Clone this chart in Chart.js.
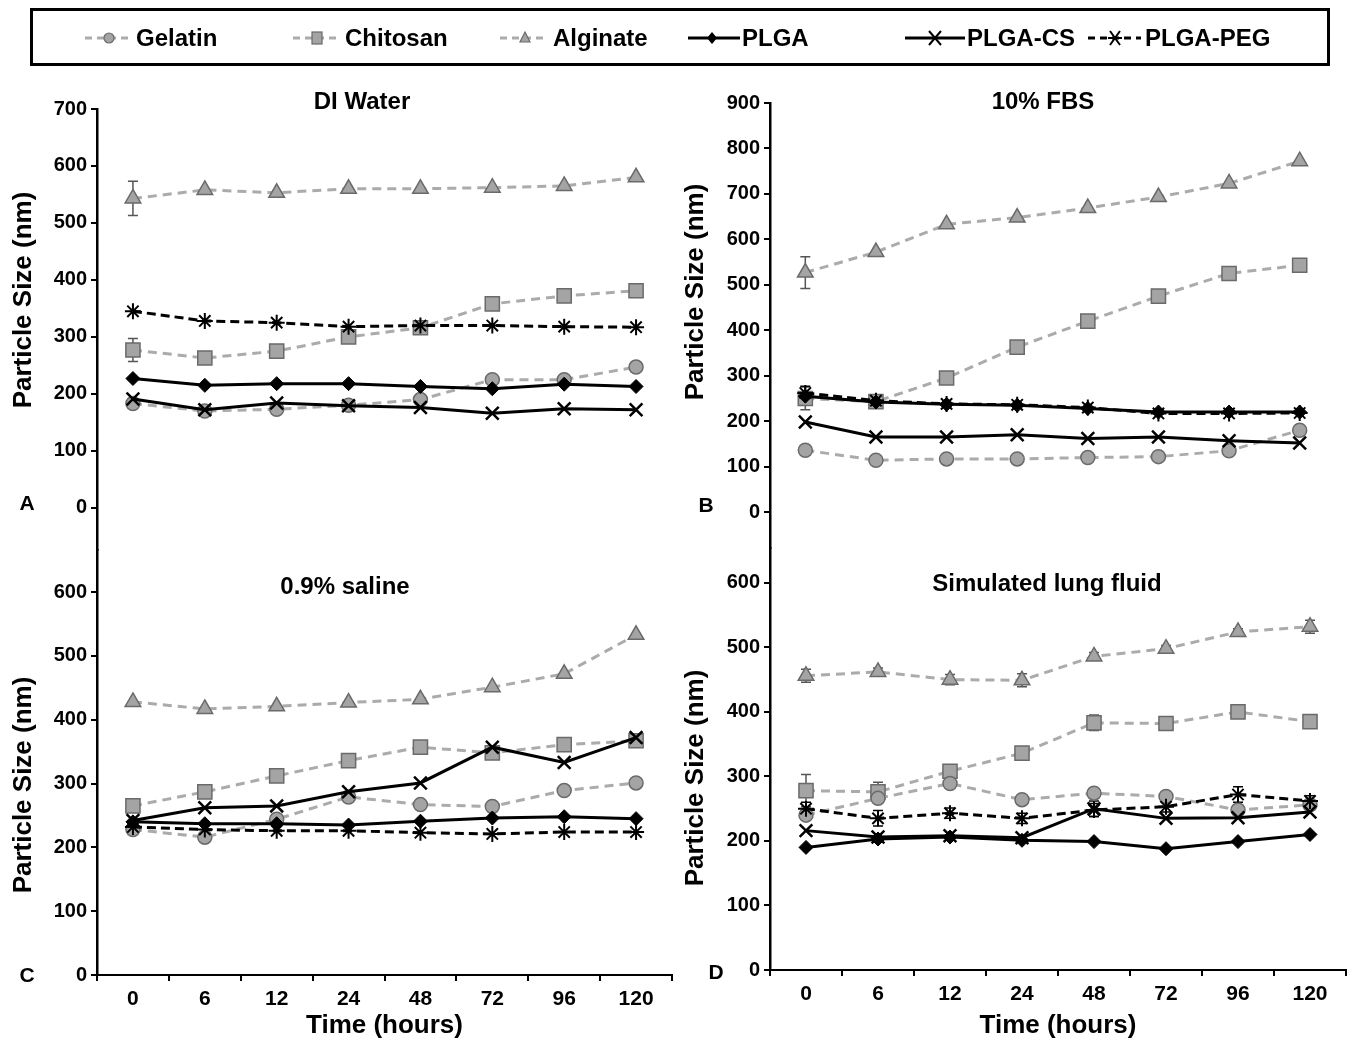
<!DOCTYPE html>
<html>
<head>
<meta charset="utf-8">
<script src="https://cdn.jsdelivr.net/npm/chart.js@4.4.1/dist/chart.umd.min.js"></script>
<style>
  html, body { margin: 0; padding: 0; background: #fff; }
  body { width: 1358px; height: 1042px; position: relative; overflow: hidden;
         font-family: "Liberation Sans", Arial, sans-serif; color: #000; }
  canvas.pc { position: absolute; }
  .abs { position: absolute; white-space: nowrap; font-weight: bold; }
  .ptitle { font-size: 24px; transform: translate(-50%, -50%); }
  .ytitle { font-size: 26px; transform: translate(-50%, -50%) rotate(-90deg); }
  .letter { font-size: 21px; font-weight: bold; transform: translate(-50%, -50%); }
  #legend { position: absolute; left: 30px; top: 8px; width: 1300px; height: 58px;
            border: 3px solid #000; box-sizing: border-box; }
  .ltext { position: absolute; font-size: 24px; font-weight: bold; top: 38px; transform: translateY(-50%); }
</style>
</head>
<body>
<div id="legend"></div>
<svg id="legendSvg" width="1358" height="70" style="position:absolute;left:0;top:0"></svg>

<canvas id="cA" class="pc"></canvas>
<canvas id="cB" class="pc"></canvas>
<canvas id="cC" class="pc"></canvas>
<canvas id="cD" class="pc"></canvas>

<div class="abs ptitle" style="left:362px;top:101px">DI Water</div>
<div class="abs ptitle" style="left:1043px;top:101px">10% FBS</div>
<div class="abs ptitle" style="left:345px;top:586px">0.9% saline</div>
<div class="abs ptitle" style="left:1047px;top:583px">Simulated lung fluid</div>

<div class="abs ytitle" style="left:22px;top:300px">Particle Size (nm)</div>
<div class="abs ytitle" style="left:694px;top:292px">Particle Size (nm)</div>
<div class="abs ytitle" style="left:22px;top:785px">Particle Size (nm)</div>
<div class="abs ytitle" style="left:694px;top:778px">Particle Size (nm)</div>

<div class="abs letter" style="left:27px;top:503px">A</div>
<div class="abs letter" style="left:706px;top:505px">B</div>
<div class="abs letter" style="left:27px;top:975px">C</div>
<div class="abs letter" style="left:716px;top:972px">D</div>

<script>
// ---------------- DATA ----------------
const timeLabels = ['0', '6', '12', '24', '48', '72', '96', '120'];
const seriesNames = ['Gelatin', 'Chitosan', 'Alginate', 'PLGA', 'PLGA-CS', 'PLGA-PEG'];

// values in order: Gelatin, Chitosan, Alginate, PLGA, PLGA-CS, PLGA-PEG
const diWaterValues = [
  [183, 170, 173, 180, 190, 225, 225, 247],
  [277, 263, 275, 300, 316, 358, 372, 381],
  [543, 558, 553, 560, 560, 562, 565, 580],
  [227, 215, 218, 218, 213, 209, 217, 213],
  [191, 172, 184, 179, 176, 166, 174, 172],
  [345, 328, 325, 318, 320, 320, 318, 317]
];
const fbsValues = [
  [136, 114, 117, 117, 120, 122, 135, 180],
  [250, 243, 295, 363, 420, 475, 525, 543],
  [527, 572, 633, 648, 669, 693, 723, 772],
  [255, 242, 237, 235, 228, 220, 220, 220],
  [198, 165, 165, 170, 162, 165, 157, 152],
  [262, 245, 238, 236, 230, 217, 217, 218]
];
const salineValues = [
  [228, 216, 244, 279, 267, 264, 289, 301],
  [265, 287, 312, 336, 357, 348, 361, 367],
  [428, 417, 421, 427, 432, 451, 472, 533],
  [240, 237, 237, 235, 241, 246, 248, 245],
  [242, 262, 265, 287, 301, 357, 333, 372],
  [232, 228, 226, 226, 223, 221, 224, 224]
];
const lungValues = [
  [240, 266, 289, 264, 274, 269, 248, 256],
  [278, 276, 308, 336, 383, 382, 400, 385],
  [456, 462, 450, 449, 486, 498, 524, 532],
  [190, 203, 206, 201, 199, 188, 199, 210],
  [216, 206, 208, 205, 250, 235, 236, 245],
  [250, 235, 243, 235, 248, 253, 272, 262]
];

// error bars (same series order)
const diWaterErrors = [
  [0, 0, 0, 0, 0, 0, 0, 0],
  [20, 0, 0, 0, 0, 0, 0, 0],
  [30, 0, 0, 0, 0, 0, 0, 0],
  [0, 0, 0, 0, 0, 0, 0, 0],
  [0, 0, 0, 0, 0, 0, 0, 0],
  [0, 0, 0, 0, 0, 0, 0, 0]
];
const fbsErrors = [
  [0, 0, 0, 0, 0, 0, 0, 0],
  [25, 0, 0, 0, 0, 0, 0, 0],
  [35, 0, 0, 0, 0, 0, 0, 0],
  [0, 0, 0, 0, 0, 0, 0, 0],
  [0, 0, 0, 0, 0, 0, 0, 0],
  [15, 0, 0, 0, 0, 0, 0, 0]
];
const salineErrors = [
  [0, 0, 0, 0, 0, 0, 0, 0],
  [0, 0, 0, 0, 0, 0, 0, 0],
  [0, 0, 0, 0, 0, 0, 0, 0],
  [0, 0, 0, 0, 0, 0, 0, 0],
  [0, 0, 0, 0, 0, 0, 0, 0],
  [0, 0, 0, 0, 0, 0, 0, 0]
];
const lungErrors = [
  [0, 0, 0, 0, 0, 0, 0, 0],
  [25, 15, 10, 10, 12, 6, 6, 10],
  [10, 6, 8, 10, 6, 5, 5, 10],
  [0, 0, 0, 0, 0, 0, 0, 0],
  [0, 0, 0, 0, 12, 0, 0, 0],
  [10, 12, 8, 8, 10, 8, 12, 8]
];

const yTicksA = [0, 100, 200, 300, 400, 500, 600, 700];
const yTicksB = [0, 100, 200, 300, 400, 500, 600, 700, 800, 900];
const yTicksC = [0, 100, 200, 300, 400, 500, 600];
const yTicksD = [0, 100, 200, 300, 400, 500, 600];

// ---------------- STYLES ----------------
const FONT = '"Liberation Sans", Arial, sans-serif';
const GRAY_LINE = '#ababab';
const GRAY_FILL = '#a4a4a4';
const GRAY_EDGE = '#6a6a6a';
const styles = [
  { color: GRAY_LINE, dash: [9, 6], width: 3, point: 'circle', radius: 7, fill: GRAY_FILL, edge: GRAY_EDGE, pw: 1.5, order: 2 },
  { color: GRAY_LINE, dash: [9, 6], width: 3, point: 'rect', radius: 10, fill: GRAY_FILL, edge: GRAY_EDGE, pw: 1.5, order: 2 },
  { color: GRAY_LINE, dash: [9, 6], width: 3, point: 'triangle', radius: 9, fill: GRAY_FILL, edge: GRAY_EDGE, pw: 1.5, order: 2 },
  { color: '#000', dash: [], width: 3, point: 'rectRot', radius: 7, fill: '#000', edge: '#000', pw: 1, order: 1 },
  { color: '#000', dash: [], width: 3, point: 'crossRot', radius: 9, fill: '#000', edge: '#000', pw: 2.5, order: 1 },
  { color: '#000', dash: [9, 5], width: 3, point: 'star', radius: 8, fill: '#000', edge: '#000', pw: 2, order: 0 }
];

const errorBarPlugin = {
  id: 'errorBars',
  beforeDatasetsDraw(chart) {
    const ctx = chart.ctx;
    const ys = chart.scales.y;
    chart.data.datasets.forEach((ds, i) => {
      if (!ds.errors) return;
      const meta = chart.getDatasetMeta(i);
      ds.errors.forEach((e, j) => {
        if (!e) return;
        const pt = meta.data[j];
        const v = ds.data[j];
        const y1 = ys.getPixelForValue(v + e);
        const y2 = ys.getPixelForValue(v - e);
        ctx.save();
        ctx.strokeStyle = ds.errColor;
        ctx.lineWidth = 1.5;
        ctx.beginPath();
        ctx.moveTo(pt.x, y1); ctx.lineTo(pt.x, y2);
        ctx.moveTo(pt.x - 5, y1); ctx.lineTo(pt.x + 5, y1);
        ctx.moveTo(pt.x - 5, y2); ctx.lineTo(pt.x + 5, y2);
        ctx.stroke();
        ctx.restore();
      });
    });
  }
};

function buildDatasets(values, errors) {
  return values.map((vals, i) => {
    const s = styles[i];
    return {
      label: seriesNames[i],
      data: vals,
      errors: errors[i],
      errColor: s.edge === '#000' ? '#000' : '#555',
      borderColor: s.color,
      borderDash: s.dash,
      borderWidth: s.width,
      pointStyle: s.point,
      pointRadius: s.radius,
      pointHoverRadius: s.radius,
      pointBackgroundColor: s.fill,
      pointBorderColor: s.edge,
      pointBorderWidth: s.pw,
      tension: 0,
      fill: false,
      order: s.order
    };
  });
}

function makePanel(id, box, values, errors, yMin, yMax, yTicks, showX, yAxisWidth, xHeight, padding) {
  const cv = document.getElementById(id);
  cv.style.left = box.left + 'px';
  cv.style.top = box.top + 'px';
  cv.width = box.width; cv.height = box.height;
  cv.style.width = box.width + 'px'; cv.style.height = box.height + 'px';
  return new Chart(cv, {
    type: 'line',
    data: { labels: timeLabels, datasets: buildDatasets(values, errors) },
    plugins: [errorBarPlugin],
    options: {
      responsive: false,
      animation: false,
      events: [],
      layout: { padding: padding },
      plugins: { legend: { display: false }, title: { display: false }, tooltip: { enabled: false } },
      scales: {
        x: {
          type: 'category',
          display: showX,
          offset: true,
          grid: { display: true, offset: true, drawOnChartArea: false, drawTicks: true, tickLength: 6, color: '#000', lineWidth: 2 },
          border: { display: true, color: '#000', width: 2 },
          ticks: { color: '#000', padding: 6, maxRotation: 0, font: { family: FONT, size: 21, weight: 'bold' } },
          title: { display: true, text: 'Time (hours)', color: '#000', padding: { top: 0, bottom: 0 },
                   font: { family: FONT, size: 26, weight: 'bold' } },
          afterFit: (s) => { s.height = xHeight; }
        },
        y: {
          min: yMin, max: yMax,
          grid: { display: true, drawOnChartArea: false, drawTicks: true, tickLength: 6, color: '#000', lineWidth: 2 },
          border: { display: true, color: '#000', width: 2.5 },
          ticks: { color: '#000', padding: 4, font: { family: FONT, size: 20, weight: 'bold' } },
          afterBuildTicks: (s) => { s.ticks = yTicks.map(v => ({ value: v })); },
          afterFit: (s) => { s.width = yAxisWidth; }
        }
      }
    }
  });
}

// Panel A: chart area x 97..672, y 109..550
makePanel('cA', { left: 0, top: 40, width: 690, height: 540 }, diWaterValues, diWaterErrors,
  -74, 700, yTicksA, false, 97, 0, { top: 69, bottom: 30, left: 0, right: 18 });
// Panel B: chart area x 770..1335, y 103..548
makePanel('cB', { left: 680, top: 40, width: 678, height: 540 }, fbsValues, fbsErrors,
  -79, 900, yTicksB, false, 90, 0, { top: 63, bottom: 32, left: 0, right: 23 });
// Panel C: chart area x 97..672, y 550..975
makePanel('cC', { left: 0, top: 520, width: 690, height: 522 }, salineValues, salineErrors,
  0, 666, yTicksC, true, 97, 66, { top: 30, bottom: 1, left: 0, right: 18 });
// Panel D: chart area x 770..1346, y 548..970
makePanel('cD', { left: 680, top: 520, width: 678, height: 522 }, lungValues, lungErrors,
  0, 654, yTicksD, true, 90, 71, { top: 28, bottom: 1, left: 0, right: 12 });

// ---------------- LEGEND ----------------
const legendItems = [
  { x1: 85, x2: 131, mx: 109, tx: 136 },
  { x1: 293, x2: 340, mx: 317, tx: 345 },
  { x1: 500, x2: 548, mx: 525, tx: 553 },
  { x1: 688, x2: 740, mx: 712, tx: 742 },
  { x1: 905, x2: 965, mx: 935, tx: 967 },
  { x1: 1088, x2: 1141, mx: 1115, tx: 1145 }
];
(function drawLegend() {
  const svg = document.getElementById('legendSvg');
  const cy = 38;
  let html = '';
  legendItems.forEach((it, i) => {
    const s = styles[i];
    const dash = s.dash.length ? 'stroke-dasharray="7,5"' : '';
    html += `<line x1="${it.x1}" y1="${cy}" x2="${it.x2}" y2="${cy}" stroke="${s.color}" stroke-width="3" ${dash}/>`;
    const m = it.mx;
    if (s.point === 'circle') html += `<circle cx="${m}" cy="${cy}" r="5" fill="${s.fill}" stroke="${s.edge}" stroke-width="1.2"/>`;
    if (s.point === 'rect') html += `<rect x="${m-5}" y="${cy-6}" width="10" height="12" fill="${s.fill}" stroke="${s.edge}" stroke-width="1.2"/>`;
    if (s.point === 'triangle') html += `<polygon points="${m},${cy-6} ${m+5},${cy+4} ${m-5},${cy+4}" fill="${s.fill}" stroke="${s.edge}" stroke-width="1.2"/>`;
    if (s.point === 'rectRot') html += `<polygon points="${m},${cy-6} ${m+5},${cy} ${m},${cy+6} ${m-5},${cy}" fill="#000"/>`;
    if (s.point === 'crossRot') html += `<path d="M${m-6},${cy-7} L${m+6},${cy+7} M${m+6},${cy-7} L${m-6},${cy+7}" stroke="#000" stroke-width="2"/>`;
    if (s.point === 'star') html += `<path d="M${m-5},${cy-7} L${m+5},${cy+7} M${m+5},${cy-7} L${m-5},${cy+7} M${m-7},${cy} L${m+7},${cy}" stroke="#000" stroke-width="2"/>`;
  });
  svg.innerHTML = html;
  legendItems.forEach((it, i) => {
    const sp = document.createElement('div');
    sp.className = 'ltext';
    sp.style.left = it.tx + 'px';
    sp.textContent = seriesNames[i];
    document.body.appendChild(sp);
  });
})();
</script>
</body>
</html>
